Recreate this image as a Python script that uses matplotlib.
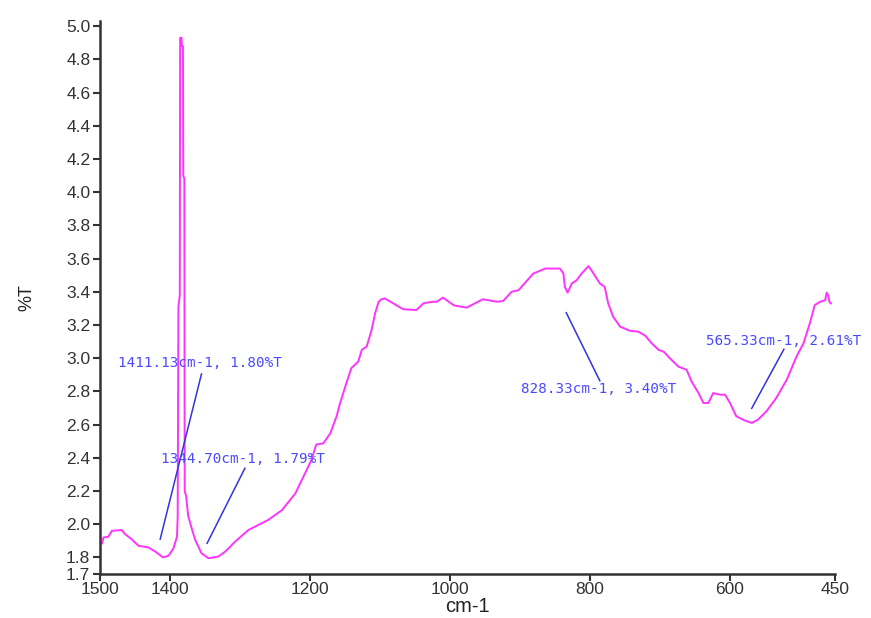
import matplotlib.pyplot as plt

# FTIR spectrum (wavenumber cm-1, %T)
wavenumber = [1497, 1495, 1488, 1483, 1469, 1464, 1455, 1445, 1431, 1421, 1410, 1402,
              1395, 1390, 1389, 1388.5, 1388, 1386, 1385.5, 1383.5, 1383, 1381.5, 1381,
              1379.5, 1379, 1377, 1374, 1369, 1364, 1355, 1345, 1331, 1321, 1307, 1288,
              1274, 1260, 1240, 1221, 1207, 1198, 1191, 1181, 1171, 1162, 1157, 1148,
              1141, 1131, 1126, 1119, 1112, 1107, 1102, 1098, 1093, 1081, 1067, 1048,
              1038, 1033, 1024, 1019, 1010, 995, 991, 976, 960, 953, 933, 924, 912, 902,
              881, 864, 843, 838, 836, 832, 826, 819, 812, 802, 795, 786, 779, 774, 767,
              757, 743, 731, 721, 712, 702, 695, 686, 674, 662, 655, 645, 638, 631, 624,
              614, 607, 600, 591, 579, 569, 560, 548, 534, 519, 505, 495, 486, 479, 471,
              464, 462, 460, 458, 456]
transmittance = [1.885, 1.92, 1.925, 1.96, 1.965, 1.94, 1.91, 1.87, 1.86, 1.835, 1.80, 1.81,
                 1.855, 1.925, 2.05, 2.66, 3.31, 3.38, 4.93, 4.93, 4.88, 4.88, 4.10,
                 4.08, 2.20, 2.17, 2.05, 1.975, 1.905, 1.825, 1.795, 1.805, 1.835, 1.895, 1.965,
                 1.995, 2.025, 2.085, 2.185, 2.307, 2.387, 2.48, 2.487, 2.547, 2.65, 2.73, 2.85,
                 2.94, 2.98, 3.05, 3.07, 3.17, 3.27, 3.34, 3.355, 3.36, 3.33, 3.295, 3.29,
                 3.33, 3.335, 3.34, 3.34, 3.365, 3.32, 3.315, 3.305, 3.34, 3.355, 3.34, 3.345, 3.40, 3.41,
                 3.51, 3.54, 3.54, 3.51, 3.43, 3.395, 3.45, 3.47, 3.51, 3.555, 3.51, 3.45, 3.43, 3.33, 3.25,
                 3.19, 3.165, 3.16, 3.135, 3.09, 3.05, 3.04, 3.00, 2.95, 2.93, 2.86, 2.79, 2.73, 2.73, 2.79,
                 2.78, 2.78, 2.73, 2.65, 2.625, 2.61, 2.63, 2.68, 2.76, 2.87, 3.01, 3.09, 3.21, 3.32, 3.34,
                 3.35, 3.395, 3.38, 3.34, 3.33]

peak_labels = ["1411.13cm-1, 1.80%T", "1344.70cm-1, 1.79%T",
               "828.33cm-1, 3.40%T", "565.33cm-1, 2.61%T"]

# label text anchor and leader line (start, end) in data coords
label_xy = [(1474, 2.97), (1413, 2.393), (899, 2.814), (634, 3.105)]
leader_from = [(1355, 2.905), (1293, 2.337), (834, 3.274), (523, 3.054)]
leader_to = [(1414, 1.91), (1347, 1.885), (786, 2.864), (569, 2.698)]

xticks = [1500, 1400, 1200, 1000, 800, 600, 450]
yticks = [1.7, 1.8, 2.0, 2.2, 2.4, 2.6, 2.8, 3.0, 3.2, 3.4, 3.6, 3.8, 4.0, 4.2, 4.4, 4.6, 4.8, 5.0]

plt.rcParams['font.family'] = ['Liberation Sans', 'DejaVu Sans']

fig = plt.figure(figsize=(8.71, 6.18), dpi=100)
ax = fig.add_axes([0.1148, 0.0712, 0.8439, 0.8953])

ax.plot(wavenumber, transmittance, color='#ff33ff', lw=1.4)

for txt, (tx, ty), (x0, y0), (x1, y1) in zip(peak_labels, label_xy, leader_from, leader_to):
    ax.plot([x0, x1], [y0, y1], color='#3333dd', lw=1.1)
    ax.text(tx, ty, txt, color='#4a4aff', fontsize=10.3, family='DejaVu Sans Mono',
            ha='left', va='center')

ax.set_xlim(1500, 450)
ax.set_ylim(1.7, 5.033)
ax.set_xticks(xticks)
ax.set_yticks(yticks)
ax.set_yticklabels([f"{v:.1f}" for v in yticks])

for s in ['top', 'right']:
    ax.spines[s].set_visible(False)
for s in ['left', 'bottom']:
    ax.spines[s].set_color('#333333')
    ax.spines[s].set_linewidth(1.8)
ax.tick_params(direction='out', length=5, width=1.5, color='#333333',
               labelsize=12.5, labelcolor='#333333', pad=2)
ax.tick_params(axis='x', pad=1)

ax.set_xlabel('cm-1', fontsize=14.5, color='#222222', labelpad=0)
ax.set_ylabel('%T', fontsize=13, color='#222222', labelpad=22)

fig.savefig('out.png', dpi=100)
